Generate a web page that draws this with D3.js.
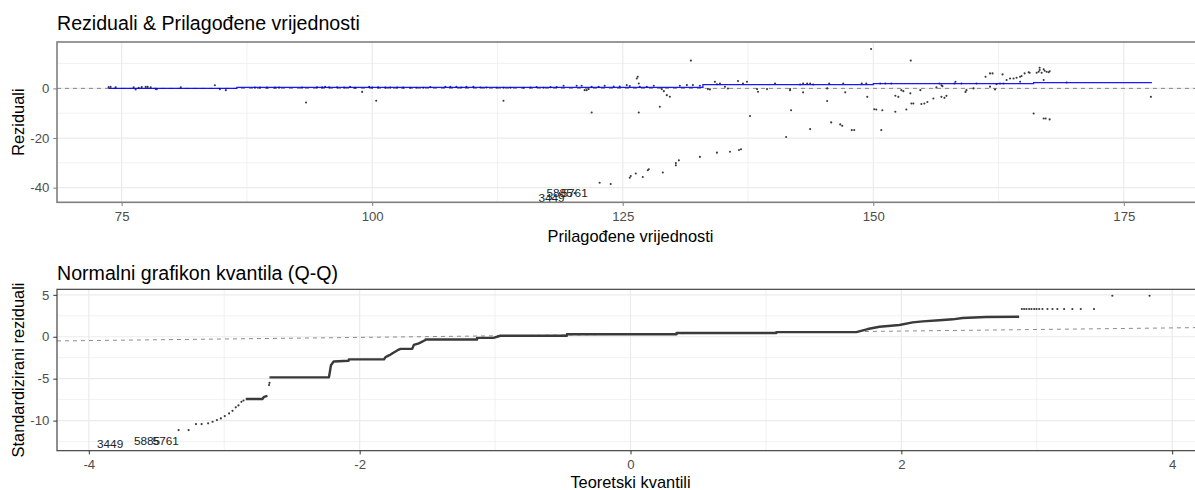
<!DOCTYPE html>
<html><head><meta charset="utf-8">
<script src="https://cdn.jsdelivr.net/npm/d3@7"></script>
<style>body{margin:0;background:#fff}svg{display:block;font-family:"Liberation Sans",Arial,sans-serif}</style>
</head><body><svg id="c" width="1195" height="490"></svg>
<script>
// ---------- Top panel data: Reziduali vs Prilagođene vrijednosti ----------
const topFitted = [73.7,73.9,74.4,76.2,76.4,76.7,77.0,77.4,77.6,77.9,78.4,78.5,80.9,84.3,84.8,85.4,88.3,88.8,89.5,90.3,90.7,93.0,93.4,94.5,95.0,95.3,95.7,96.5,97.2,97.8,98.3,99.0,99.7,100.0,100.4,100.6,101.3,101.8,102.5,103.1,
 103.8,104.4,105.1,105.8,107.3,107.8,108.4,108.9,109.4,110.1,110.8,111.4,112.4,113.1,113.1,113.8,115.1,115.8,116.4,117.1,117.8,118.4,119.1,120.4,120.9,121.2,121.4,121.6,121.9,121.9,122.6,123.2,124.1,124.7,125.4,125.7,126.4,126.5,126.6,126.7,126.6,127.4,128.1,128.7,128.9,129.1,129.4,129.7,130.7,131.4,131.8,132.0,132.7,133.5,133.7,134.2,134.4,134.7,135.2,135.5,136.5,137.0,137.4,137.7,138.4,138.5,139.4,140.2,141.7,
 122.7,123.8,125.7,125.8,126.3,127.0,127.5,127.6,129.0,130.3,130.3,130.6,132.7,134.4,135.7,136.6,136.8,141.3,141.8,
 141.7,142.7,143.0,143.4,143.7,144.0,143.0,143.7,145.4,145.4,145.6,145.8,146.7,146.9,147.0,147.2,147.85,148.1,148.85,149.3,149.4,149.78,150.1,150.3,150.7,150.8,150.9,151.2,151.8,152.2,152.2,152.5,152.8,153.0,153.3,153.7,153.74,153.8,154.0,154.7,154.8,155.1,155.4,156.0,156.3,156.6,156.8,156.9,156.8,157.1,157.3,158.2,158.1,158.8,159.2,159.3,160.0,160.3,161.2,161.65,161.9,161.65,162.15,162.3,162.65,163.0,162.9,163.3,163.65,164.0,164.3,164.65,164.8,165.1,165.5,165.6,164.65,166.0,166.5,166.6,166.8,167.0,167.1,167.3,167.5,166.6,166.3,167.6,167.0,167.0,167.2,167.6,169.3,177.7];
const topResid = [0.5,0.6,0.4,0.4,-0.4,0.2,0.5,0.6,0.6,0.4,-0.2,-0.3,0.4,1.3,-0.3,-0.7,0.3,0.3,0.3,0.3,0.3,0.3,-5.7,0.4,0.4,0.6,0.4,0.4,0.3,0.6,0.2,-1.4,0.6,0.3,-5.0,0.4,0.3,0.3,0.3,0.3,
 0.25,0.25,0.25,0.52,0.66,0.66,0.66,0.39,0.66,0.66,0.39,0.39,0.25,0.25,-5.0,0.25,0.25,0.39,0.52,0.25,0.52,0.52,1.06,1.06,1.06,-0.7,-0.7,-0.29,0.66,-9.7,0.66,1.06,0.79,0.79,1.33,0.93,4.0,4.7,2.0,0.66,-9.7,0.66,1.06,-7.4,-0.29,-1.1,-2.71,-3.38,1.06,1.33,11.2,1.33,1.06,-0.29,-0.4,2.68,1.7,2.0,0.66,-0.02,2.95,2.0,2.68,-11.1,-0.29,-1.36,-0.29,2.0,-0.29,
 -38.0,-38.5,-36.0,-35.3,-34.3,-35.7,-33.0,-32.6,-33.9,-31.0,-30.1,-29.0,-27.6,-25.9,-25.5,-24.8,-24.5,-19.6,-8.8,
 -0.7,1.6,2.0,2.0,2.0,1.6,-1.6,-16.4,-5.1,0.0,2.0,-13.7,-14.5,-15.1,2.0,-1.6,-16.8,-16.8,2.0,2.0,-3.4,15.9,-8.4,-8.5,2.0,-16.8,-8.8,2.0,2.0,-9.4,-2.97,-3.4,-0.7,-1.1,-8.5,-2.0,11.2,-6.1,-6.1,-0.7,-6.3,-6.1,-5.5,-4.05,0.4,2.0,1.3,0.9,-3.4,-3.8,-3.0,2.7,2.0,2.0,-1.4,-0.7,0.0,2.0,4.7,6.05,6.05,0.7,-0.4,1.7,2.0,2.0,5.65,3.4,4.0,4.0,4.3,4.7,5.0,6.05,6.5,6.3,2.7,-10.1,6.7,7.4,6.3,7.7,7.1,6.7,6.5,8.3,6.3,6.9,3.4,-12.1,-12.1,-12.5,2.4,-3.4];
const topLabelIds = ["3449","5885","5761"];
const topLabelFitted = [117.9,118.7,120.2];
const topLabelResid = [-44.2,-42.2,-42.2];
const trendFitted = [73.7,86.5,86.5,133.0,133.0,150.0,150.0,166.0,166.0,177.8];
const trendResid = [0.0,0.0,0.45,0.45,1.5,1.5,1.9,1.9,2.3,2.3];
const topXTicks = [75,100,125,150,175];
const topXMinor = [87.5,112.5,137.5,162.5];
const topYTicks = [-40,-20,0];
const topYMinor = [-30,-10,10];

// ---------- Bottom panel data: Q-Q ----------
const qqRunA = [[-2.841,-7.43],[-2.718,-7.43],[-2.706,-7.16],[-2.681,-7.04]];
const qqRunB = [[-2.666,-4.84],[-2.227,-4.84],[-2.224,-4.57],[-2.218,-4.0],[-2.212,-3.4],[-2.192,-2.95],[-2.082,-2.86],[-2.08,-2.70],[-1.82,-2.70],[-1.809,-2.42],[-1.78,-2.2],[-1.76,-2.0],[-1.72,-1.6],[-1.698,-1.45],[-1.612,-1.45],[-1.600,-0.98],[-1.563,-0.79],[-1.514,-0.39],[-1.514,-0.33],[-1.133,-0.33],[-1.133,-0.13],[-1.011,-0.13],[-0.962,0.12],[-0.47,0.12],[-0.47,0.29],[0.34,0.29],[0.34,0.44],[1.077,0.44],[1.077,0.55],[1.667,0.55],[1.752,0.92],[1.839,1.19],[1.986,1.40],[2.084,1.72],[2.158,1.84],[2.281,1.96],[2.379,2.08],[2.452,2.23],[2.625,2.35],[2.870,2.39]];
const qqDotsX = [-3.337,-3.263,-3.209,-3.167,-3.119,-3.086,-3.054,-3.025,-2.996,-2.964,-2.939,-2.915,-2.895,-2.873,-2.858,-2.669,-2.666,
 2.890,2.907,2.924,2.944,2.961,2.981,2.998,3.018,3.042,3.079,3.116,3.152,3.202,3.263,3.325,3.423,3.558,3.833];
const qqDotsY = [-11.13,-11.13,-10.42,-10.42,-10.33,-10.14,-9.94,-9.74,-9.46,-9.14,-8.83,-8.42,-8.19,-7.76,-7.6,-5.76,-5.49,
 3.31,3.31,3.31,3.31,3.31,3.31,3.31,3.31,3.31,3.31,3.31,3.31,3.31,3.31,3.31,3.31,4.89,4.89];
const qqLabelIds = ["3449","5885","5761"];
const qqLabelX = [-3.843,-3.570,-3.432];
const qqLabelY = [-12.8,-12.4,-12.4];
const qqLine = [[-4.235,-0.5],[4.235,1.1]];
const qqXTicks = [-4,-2,0,2,4];
const qqXMinor = [-3,-1,1,3];
const qqYTicks = [-10,-5,0,5];
const qqYMinor = [-12.5,-7.5,-2.5,2.5];

const svg = d3.select("#c");
const L = 57, R = 1204;
const FONT = '"Liberation Sans",Arial,sans-serif';

function panel(o){
  const g = svg.append("g");
  const x = d3.scaleLinear().domain(o.xd).range([L,R]);
  const y = d3.scaleLinear().domain(o.yd).range([o.bottom,o.top]);
  const clipId = "clip"+o.id;
  svg.append("clipPath").attr("id",clipId).append("rect").attr("x",L).attr("y",o.top).attr("width",R-L).attr("height",o.bottom-o.top);
  const grid = g.append("g").attr("clip-path",`url(#${clipId})`);
  o.xMinor.forEach(v=>grid.append("line").attr("x1",x(v)).attr("x2",x(v)).attr("y1",o.top).attr("y2",o.bottom).attr("stroke","#ebebeb").attr("stroke-width",0.7));
  o.yMinor.forEach(v=>grid.append("line").attr("y1",y(v)).attr("y2",y(v)).attr("x1",L).attr("x2",R).attr("stroke","#ebebeb").attr("stroke-width",0.7));
  o.xTicks.forEach(v=>grid.append("line").attr("x1",x(v)).attr("x2",x(v)).attr("y1",o.top).attr("y2",o.bottom).attr("stroke","#ebebeb").attr("stroke-width",1.2));
  o.yTicks.forEach(v=>grid.append("line").attr("y1",y(v)).attr("y2",y(v)).attr("x1",L).attr("x2",R).attr("stroke","#ebebeb").attr("stroke-width",1.2));
  const plot = g.append("g").attr("clip-path",`url(#${clipId})`);
  const fmt = d => String(d);
  const xa = g.append("g").attr("transform",`translate(0,${o.bottom})`)
    .call(d3.axisBottom(x).tickValues(o.xTicks).tickSize(3.7).tickPadding(5.5).tickFormat(fmt));
  const ya = g.append("g").attr("transform",`translate(${L},0)`)
    .call(d3.axisLeft(y).tickValues(o.yTicks).tickSize(3.7).tickPadding(4).tickFormat(fmt));
  [xa,ya].forEach(a=>{
    a.select(".domain").remove();
    a.selectAll(".tick line").attr("stroke",o.border).attr("stroke-width",1);
    a.selectAll(".tick text").attr("fill","#4d4d4d").style("font-size","13.2px").style("font-family",FONT);
  });
  g.append("rect").attr("x",L).attr("y",o.top).attr("width",R-L).attr("height",o.bottom-o.top)
    .attr("fill","none").attr("stroke",o.border).attr("stroke-width",o.bw);
  svg.append("text").attr("x",L).attr("y",o.titleY).text(o.title).style("font-size","19.6px").attr("fill","#000");
  svg.append("text").attr("x",(L+R)/2).attr("y",o.xTitleY).attr("text-anchor","middle").text(o.xTitle).style("font-size","16.4px");
  svg.append("text").attr("transform",`translate(${o.yTitleX},${(o.top+o.bottom)/2}) rotate(-90)`).attr("text-anchor","middle").text(o.yTitle).style("font-size","16.4px");
  return {x,y,plot};
}

// ---- Top panel ----
const P1 = panel({id:1, xd:[68.55,183.0], yd:[-45.9,18.7], top:42, bottom:202.3,
  xTicks:topXTicks, xMinor:topXMinor, yTicks:topYTicks, yMinor:topYMinor,
  border:"#7f7f7f", bw:1.6, title:"Reziduali & Prilagođene vrijednosti", titleY:30,
  xTitle:"Prilagođene vrijednosti", xTitleY:242, yTitle:"Reziduali", yTitleX:24});
P1.plot.append("line").attr("x1",L).attr("x2",R).attr("y1",P1.y(0)).attr("y2",P1.y(0))
  .attr("stroke","#808080").attr("stroke-width",0.9).attr("stroke-dasharray","4,4");
P1.plot.selectAll("circle.p").data(d3.range(topFitted.length)).join("circle")
  .attr("cx",i=>P1.x(topFitted[i])).attr("cy",i=>P1.y(topResid[i])).attr("r",1.05).attr("fill","#3a3a3a");
P1.plot.append("path").datum(d3.range(trendFitted.length))
  .attr("d",d3.line().x(i=>P1.x(trendFitted[i])).y(i=>P1.y(trendResid[i])))
  .attr("fill","none").attr("stroke","#0000ff").attr("stroke-width",1.3).attr("stroke-opacity",0.9);
P1.plot.selectAll("circle.l").data(d3.range(topLabelIds.length)).join("circle")
  .attr("cx",i=>P1.x(topLabelFitted[i])).attr("cy",i=>P1.y(topLabelResid[i])).attr("r",1.05).attr("fill","#3a3a3a");
P1.plot.selectAll("text.lab").data(d3.range(topLabelIds.length)).join("text")
  .attr("x",i=>P1.x(topLabelFitted[i])).attr("y",i=>P1.y(topLabelResid[i])).attr("dy","0.36em")
  .attr("text-anchor","middle").style("font-size","11.8px").attr("fill","#222").text(i=>topLabelIds[i]);

// ---- Bottom panel ----
const P2 = panel({id:2, xd:[-4.235,4.235], yd:[-13.59,5.66], top:289.3, bottom:450.7,
  xTicks:qqXTicks, xMinor:qqXMinor, yTicks:qqYTicks, yMinor:qqYMinor,
  border:"#333333", bw:1.1, title:"Normalni grafikon kvantila (Q-Q)", titleY:280,
  xTitle:"Teoretski kvantili", xTitleY:488, yTitle:"Standardizirani reziduali", yTitleX:24});
P2.plot.append("path").datum(qqLine)
  .attr("d",d3.line().x(d=>P2.x(d[0])).y(d=>P2.y(d[1])))
  .attr("stroke","#808080").attr("stroke-width",0.9).attr("stroke-dasharray","4,4").attr("fill","none");
[qqRunA,qqRunB].forEach(run=>{
  P2.plot.append("path").datum(run)
    .attr("d",d3.line().x(d=>P2.x(d[0])).y(d=>P2.y(d[1])))
    .attr("fill","none").attr("stroke","#3a3a3a").attr("stroke-width",2.4).attr("stroke-linejoin","round");
});
P2.plot.selectAll("circle.q").data(d3.range(qqDotsX.length)).join("circle")
  .attr("cx",i=>P2.x(qqDotsX[i])).attr("cy",i=>P2.y(qqDotsY[i])).attr("r",1.1).attr("fill","#3a3a3a");
P2.plot.selectAll("text.lab").data(d3.range(qqLabelIds.length)).join("text")
  .attr("x",i=>P2.x(qqLabelX[i])).attr("y",i=>P2.y(qqLabelY[i])).attr("dy","0.36em")
  .attr("text-anchor","middle").style("font-size","11.8px").attr("fill","#222").text(i=>qqLabelIds[i]);
</script></body></html>
